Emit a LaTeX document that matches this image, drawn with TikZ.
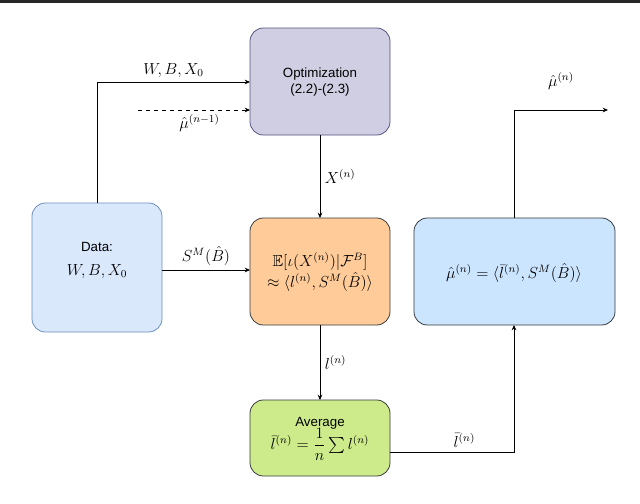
\documentclass[tikz,border=0pt]{standalone}
\usepackage{amsmath,amssymb}
\usepackage{fontspec}
\setsansfont{Liberation Sans}
\usetikzlibrary{arrows.meta}
\definecolor{dataF}{HTML}{DAE8FC}\definecolor{dataD}{HTML}{6C8EBF}
\definecolor{optF}{HTML}{D0CEE2}\definecolor{optD}{HTML}{56517E}
\definecolor{orF}{HTML}{FFCC99}\definecolor{muF}{HTML}{CCE5FF}
\definecolor{avF}{HTML}{CDEB8B}\definecolor{dk}{HTML}{36393D}
\begin{document}
\begin{tikzpicture}[x=0.75pt,y=-0.75pt,
 box/.style={draw,rounded corners=10pt,line width=0.6pt},
 conn/.style={line width=0.6pt,-{Stealth[length=4pt,width=3.5pt]}},
 lbl/.style={font=\large}]
\useasboundingbox (0,0) rectangle (640,504);
\fill[black!85] (0,0) rectangle (640,3);
\draw[box,fill=dataF,draw=dataD] (32,203) rectangle (162,332);
\node (data) at (97,260) {\begin{tabular}{c}\sffamily Data:\\[6pt] \large$W,B,X_0$\end{tabular}};
\coordinate (dataTop) at (97,203);
\coordinate (dataR) at (162,270);
\draw[box,fill=optF,draw=optD] (250,28) rectangle (390,135);
\node (opt) at (320,82) {\sffamily\begin{tabular}{c}Optimization\\(2.2)-(2.3)\end{tabular}};
\draw[box,fill=orF,draw=dk] (250,218) rectangle (390,325);
\node[font=\large] (e) at (320,273) {$\begin{array}{c}\mathbb{E}[\iota(X^{(n)})|\mathcal{F}^B]\\ \approx\langle l^{(n)},S^M(\hat B)\rangle\end{array}$};
\draw[box,fill=muF,draw=dk] (414,218) rectangle (615,325);
\node[font=\large] (mu) at (514,273) {$\hat\mu^{(n)}=\langle \bar l^{(n)},S^M(\hat B)\rangle$};
\draw[box,fill=avF,draw=dk] (250,400) rectangle (390,476);
\node (avg) at (320,438) {\begin{tabular}{c}\sffamily Average\\[-2pt] \large$\bar l^{(n)}=\dfrac1n\sum l^{(n)}$\end{tabular}};
\draw[conn] (dataTop) |- (250,82) node[pos=0.75,above,lbl] {$W,B,X_0$};
\draw[conn,dashed] (138,110) -- (250,110) node[pos=0.55,below,lbl] {$\hat\mu^{(n-1)}$};
\draw[conn] (320,135) -- (320,218) node[midway,right,lbl] {$X^{(n)}$};
\draw[conn] (dataR) -- (250,270) node[midway,above,lbl] {$S^M(\hat B)$};
\draw[conn] (320,325) -- (320,400) node[midway,right,lbl] {$l^{(n)}$};
\draw[conn] (390,452) -| (514,325) node[pos=0.3,above,lbl] {$\bar l^{(n)}$};
\draw[conn] (514,218) |- (608,110) node[pos=0.75,above,yshift=12pt,lbl] {$\hat\mu^{(n)}$};
\end{tikzpicture}
\end{document}
